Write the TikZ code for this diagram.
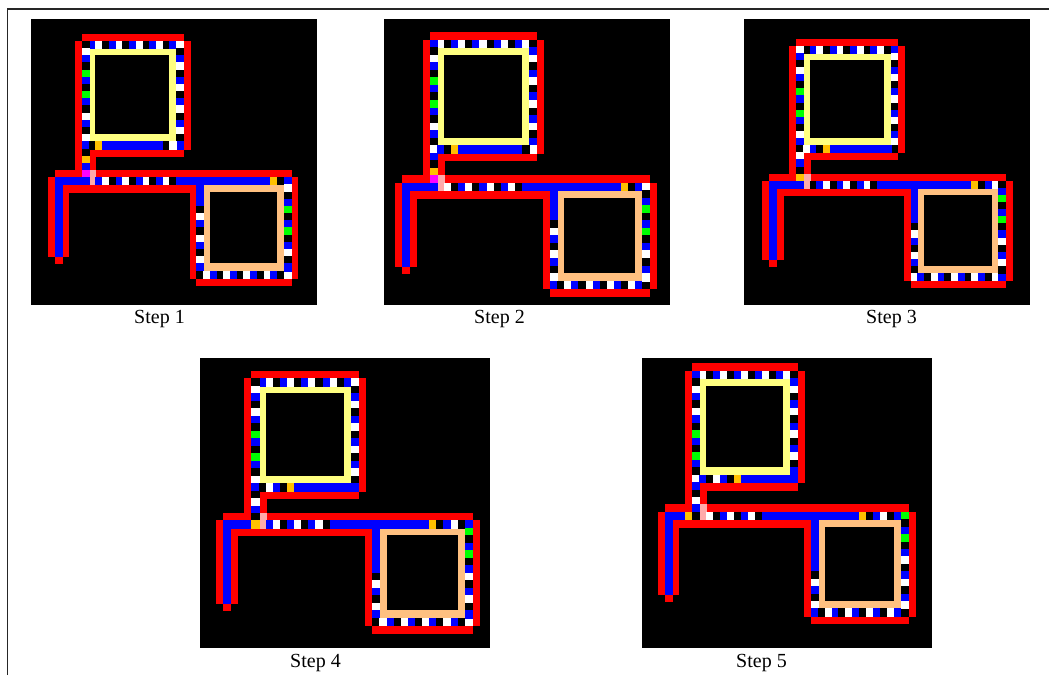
\documentclass[tikz,border=0pt]{standalone}
\usepackage{fontspec}
\setmainfont{Liberation Serif}
\definecolor{ck}{RGB}{0,0,0}
\definecolor{cb}{RGB}{0,0,255}
\definecolor{cw}{RGB}{255,255,255}
\definecolor{cg}{RGB}{0,255,0}
\definecolor{co}{RGB}{255,192,0}
\definecolor{cm}{RGB}{255,0,255}
\definecolor{cp}{RGB}{255,170,170}
\definecolor{cr}{RGB}{255,0,0}
\definecolor{cy}{RGB}{255,255,128}
\definecolor{ct}{RGB}{255,192,128}
\tikzset{
  redbar/.style={fill=cr,draw=cr,line width=0.1pt},
  framerule/.style={draw=black!85,line width=1.3pt},
  steplabel/.style={anchor=base,inner sep=0pt,font=\fontsize{20}{24}\selectfont}
}
% one run of cells: start col, start row, dx, dy, colour letters
\newcommand\cellrun[5]{%
  \foreach \cc [count=\ii from 0] in {#5}{%
    \pgfmathsetmacro\xa{#1+\ii*#3}%
    \pgfmathsetmacro\ya{#2+\ii*#4}%
    \fill[fill=c\cc,draw=c\cc,line width=0.1pt] (\xa,\ya) rectangle ++(1,1);
  }}
\newcommand\track{%
  \foreach \xa/\ya/\xb/\yb in {5/0/20/1,4/1/5/20,1/19/5/20,20/1/21/16,6/16/20/17,6/16/7/19,7/19/36/20,0/20/1/31,2/21/3/31,1/31/2/32,2/21/22/22,21/21/22/34,22/34/36/35,36/20/37/34}{%
    \fill[redbar] (\xa,\ya) rectangle (\xb,\yb);
  }%
  \fill[cy] (6,2) rectangle (19,15);
  \fill[black] (7,3) rectangle (18,14);
  \fill[ct] (23,21) rectangle (35,33);
  \fill[black] (24,22) rectangle (34,32);
  \fill[fill=cb,draw=cb,line width=0.1pt] (1,20) rectangle (2,31);
  \fill[fill=cp,draw=cp,line width=0.1pt] (6,19) rectangle (7,21);
}
% top row, left col, right col, row 15, row 20 (cols 1-5), row 20 (cols 7-35), col 22, row 33, col 35
\newcommand\panelcells[9]{%
  \cellrun{5}{1}{1}{0}{#1}
  \cellrun{5}{1}{0}{1}{#2}
  \cellrun{19}{2}{0}{1}{#3}
  \cellrun{6}{15}{1}{0}{#4}
  \cellrun{1}{20}{1}{0}{#5}
  \cellrun{7}{20}{1}{0}{#6}
  \cellrun{22}{21}{0}{1}{#7}
  \cellrun{23}{33}{1}{0}{#8}
  \cellrun{35}{21}{0}{1}{#9}
}
\begin{document}
\begin{tikzpicture}[x=1pt,y=-1pt]
\useasboundingbox (0,0) rectangle (1049,675);
\fill[white] (0,0) rectangle (1049,675);
\draw[framerule] (7.5,675) -- (7.5,9) -- (1049,9);

\fill[black] (31,19) rectangle (317,305);
\fill[black] (384,19) rectangle (670,305);
\fill[black] (744,19) rectangle (1030,305);
\fill[black] (200,358) rectangle (490,648);
\fill[black] (642,358) rectangle (932,648);

\begin{scope}[shift={(48.33,33.67)},x=6.73pt,y=-7.18pt]
\track
\panelcells
 {k,b,w,k,b,w,k,b,w,k,b,w,k,b,w}
 {k,w,b,k,g,b,k,g,b,k,w,b,k,w,b,k,o,b,m}
 {k,b,w,k,b,w,k,b,w,k,b,w,k,b}
 {k,o,b,b,b,b,b,b,b,b,b,k,w}
 {b,b,b,b,b}
 {b,w,k,b,w,k,b,w,k,b,w,k,b,b,b,b,b,b,b,b,b,b,b,b,b,b,o,k,b}
 {b,b,b,k,w,b,k,w,b,k,w,b,k}
 {w,b,k,w,b,k,w,b,k,w,b,k,w}
 {w,k,b,g,k,b,g,k,b,w,k,b}
\end{scope}

\begin{scope}[shift={(394.67,32.33)},x=7.07pt,y=-7.524pt]
\track
\panelcells
 {b,w,k,b,w,k,b,w,k,b,w,k,b,w,k}
 {b,k,w,b,k,g,b,k,g,b,k,w,b,k,w,b,k,o,m}
 {b,w,k,b,w,k,b,w,k,b,w,k,b,w}
 {b,k,o,b,b,b,b,b,b,b,b,b,k}
 {b,b,b,b,b}
 {w,k,b,w,k,b,w,k,b,w,k,b,b,b,b,b,b,b,b,b,b,b,b,b,b,o,k,b,w}
 {b,b,b,b,k,w,b,k,w,b,k,w,b}
 {k,w,b,k,w,b,k,w,b,k,w,b,k}
 {k,b,g,k,b,g,k,b,w,k,b,w}
\end{scope}

\begin{scope}[shift={(762.33,38.67)},x=6.748pt,y=-7.105pt]
\track
\panelcells
 {w,k,b,w,k,b,w,k,b,w,k,b,w,k,b}
 {w,b,k,w,b,k,g,b,k,g,b,k,w,b,k,w,b,k,o}
 {w,k,b,w,k,b,w,k,b,w,k,b,w,k}
 {w,b,k,o,b,b,b,b,b,b,b,b,b}
 {b,b,b,b,b}
 {k,b,w,k,b,w,k,b,w,k,b,b,b,b,b,b,b,b,b,b,b,b,b,b,o,k,b,w,k}
 {b,b,b,b,b,k,w,b,k,w,b,k,w}
 {b,k,w,b,k,w,b,k,w,b,k,w,b}
 {b,g,k,b,g,k,b,w,k,b,w,k}
\end{scope}

\begin{scope}[shift={(216,371)},x=7.108pt,y=-7.476pt]
\track
\panelcells
 {k,b,w,k,b,w,k,b,w,k,b,w,k,b,w}
 {k,w,b,k,w,b,k,g,b,k,g,b,k,w,b,k,w,b,k}
 {k,b,w,k,b,w,k,b,w,k,b,w,k,b}
 {k,w,b,k,o,b,b,b,b,b,b,b,b}
 {b,b,b,b,o}
 {b,w,k,b,w,k,b,w,k,b,b,b,b,b,b,b,b,b,b,b,b,b,b,o,k,b,w,k,b}
 {b,b,b,b,b,b,k,w,b,k,w,b,k}
 {w,b,k,w,b,k,w,b,k,w,b,k,w}
 {g,k,b,g,k,b,w,k,b,w,k,b}
\end{scope}

\begin{scope}[shift={(657.67,363.33)},x=6.955pt,y=-7.429pt]
\track
\panelcells
 {b,w,k,b,w,k,b,w,k,b,w,k,b,w,k}
 {b,k,w,b,k,w,b,k,g,b,k,g,b,k,w,b,k,w,b}
 {b,w,k,b,w,k,b,w,k,b,w,k,b,b}
 {b,k,w,b,k,o,b,b,b,b,b,b,b}
 {b,b,b,o,k}
 {w,k,b,w,k,b,w,k,b,b,b,b,b,b,b,b,b,b,b,b,b,b,o,k,b,w,k,b,g}
 {b,b,b,b,b,b,b,k,w,b,k,w,b}
 {k,w,b,k,w,b,k,w,b,k,w,b,k}
 {k,b,g,k,b,w,k,b,w,k,b,w}
\end{scope}

\node[steplabel] (s1) at (159.5,323.5) {Step 1};
\node[steplabel] (s2) at (499.5,323.5) {Step 2};
\node[steplabel] (s3) at (891.5,323.5) {Step 3};
\node[steplabel] (s4) at (315.5,667) {Step 4};
\node[steplabel] (s5) at (761.5,667) {Step 5};
\end{tikzpicture}
\end{document}
